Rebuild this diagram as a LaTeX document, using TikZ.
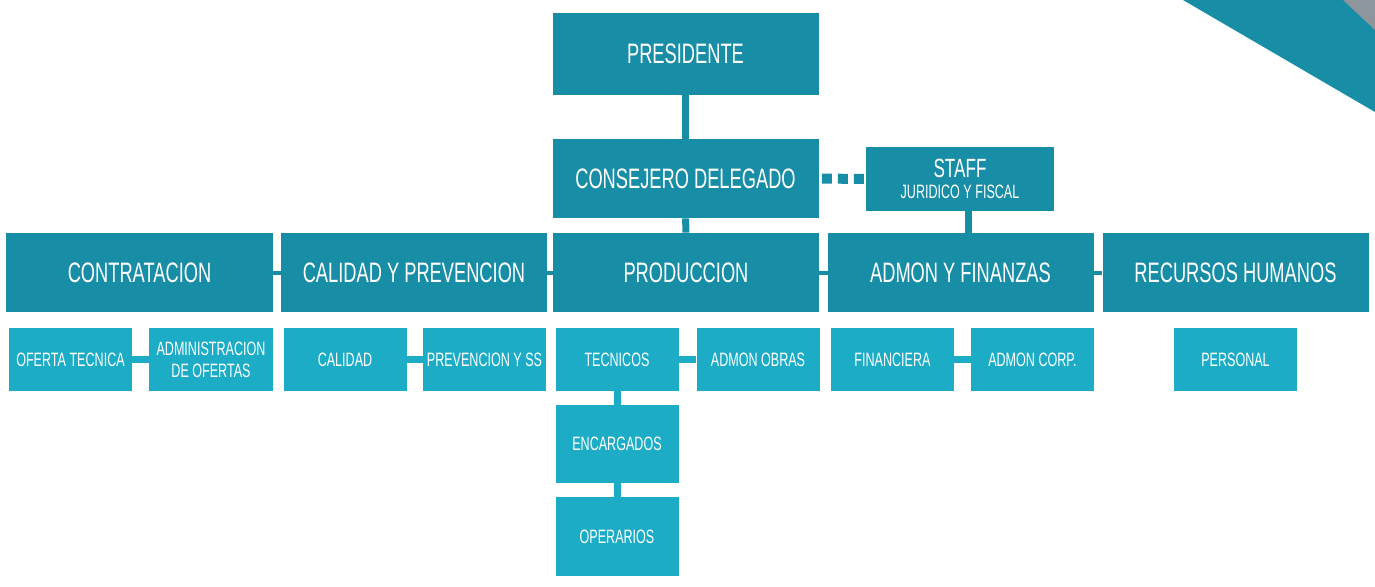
\documentclass[tikz,border=0pt]{standalone}
\usepackage{fontspec}
\setmainfont{Liberation Sans}[FakeStretch=0.65]
\usetikzlibrary{backgrounds}
\definecolor{tealdark}{RGB}{24,141,166}
\definecolor{teallight}{RGB}{28,172,197}
\definecolor{cornergray}{RGB}{140,150,156}

\begin{document}
\begin{tikzpicture}[x=0.2mm, y=-0.2mm,
    top/.style={fill=tealdark, text=white, minimum width=53.2mm, minimum height=15.8mm, inner sep=1pt, font=\fontsize{16}{18}\selectfont},
    sub/.style={fill=teallight, text=white, minimum width=24.6mm, minimum height=12.6mm, inner sep=1pt, align=center, font=\fontsize{11}{12.5}\selectfont},
    link/.style={draw=tealdark, line width=1.4mm},
    sublink/.style={draw=teallight, line width=1.4mm}]
    \useasboundingbox (0,0) rectangle (1375,586);
    % corner band
    \fill[tealdark] (1183,0) -- (1375,0) -- (1375,112) -- cycle;
    \fill[cornergray] (1343,0) -- (1375,0) -- (1375,30) -- cycle;
    % top
    \node[top, minimum height=16.4mm] (pres) at (685.5,54) {PRESIDENTE};
    \node[top] (cd) at (685.5,178.5) {CONSEJERO DELEGADO};
    \node[top, minimum width=37.6mm, minimum height=12.8mm, align=center, font=\fontsize{15}{14}\selectfont] (staff) at (960,179)
        {STAFF\\[-2pt]{\fontsize{11}{12}\selectfont JURIDICO Y FISCAL}};
    % departments
    \node[top] (contr) at (139.5,272.5) {CONTRATACION};
    \node[top] (calprev) at (414,272.5) {CALIDAD Y PREVENCION};
    \node[top] (prod) at (686,272.5) {PRODUCCION};
    \node[top] (admon) at (960.5,272.5) {ADMON Y FINANZAS};
    \node[top] (rrhh) at (1235.5,272.5) {RECURSOS HUMANOS};
    % units
    \node[sub] (oferta) at (70.5,359.5) {OFERTA TECNICA};
    \node[sub] (adminof) at (211,359.5) {ADMINISTRACION\\DE OFERTAS};
    \node[sub] (calidad) at (345,359.5) {CALIDAD};
    \node[sub] (prevss) at (484.5,359.5) {PREVENCION Y SS};
    \node[sub] (tecnicos) at (617,359.5) {TECNICOS};
    \node[sub] (obras) at (758,359.5) {ADMON OBRAS};
    \node[sub] (financ) at (892.5,359.5) {FINANCIERA};
    \node[sub] (corp) at (1032.5,359.5) {ADMON CORP.};
    \node[sub] (personal) at (1235.5,359.5) {PERSONAL};
    \node[sub, minimum height=15.6mm] (encarg) at (617,444) {ENCARGADOS};
    \node[sub, minimum height=15.8mm] (operar) at (617,536.5) {OPERARIOS};
    % links
    \draw[link] (pres) -- (cd);
    \draw[link] (cd) -- (prod);
    \draw[link] ([xshift=1.6mm]staff.south) -- ([xshift=1.6mm]staff.south |- admon.north);
    \draw[tealdark, line width=2mm, dash pattern=on 2mm off 1.2mm, dash phase=-0.6mm] (cd.east) -- (staff.west);
    \draw[sublink] (oferta) -- (adminof);
    \draw[sublink] (calidad) -- (prevss);
    \draw[sublink] (tecnicos) -- (obras);
    \draw[sublink] (financ) -- (corp);
    \draw[sublink] (tecnicos) -- (encarg);
    \draw[sublink] (encarg) -- (operar);
    \begin{scope}[on background layer]
        \draw[tealdark, line width=0.8mm] (contr) -- (rrhh);
    \end{scope}
\end{tikzpicture}
\end{document}
